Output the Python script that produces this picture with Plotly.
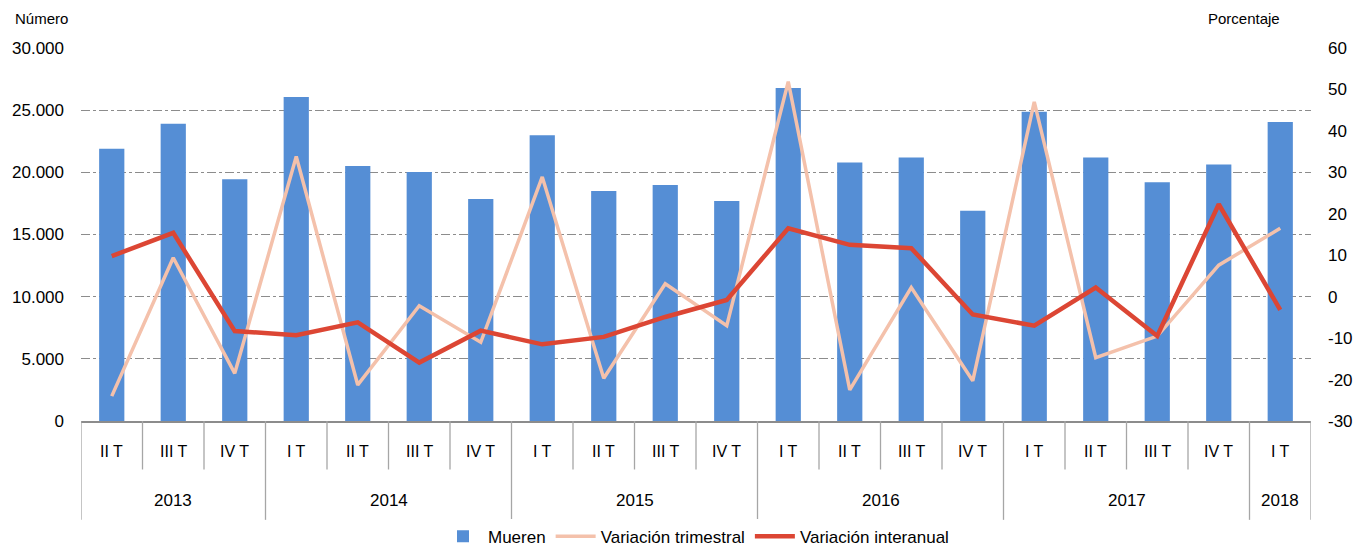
import plotly.graph_objects as go

years = ["2013", "2013", "2013",
         "2014", "2014", "2014", "2014",
         "2015", "2015", "2015", "2015",
         "2016", "2016", "2016", "2016",
         "2017", "2017", "2017", "2017",
         "2018"]
quarters = ["II T", "III T", "IV T",
            "I T", "II T", "III T", "IV T",
            "I T", "II T", "III T", "IV T",
            "I T", "II T", "III T", "IV T",
            "I T", "II T", "III T", "IV T",
            "I T"]
mueren = [21900, 23900, 19450,
          26050, 20500, 20030, 17850,
          22980, 18500, 18980, 17700,
          26780, 20800, 21200, 16920,
          24880, 21200, 19200, 20640,
          24050]
var_trimestral = [-24.0, 9.4, -18.5,
                  33.8, -21.3, -2.2, -11.0,
                  28.9, -19.7, 3.1, -7.0,
                  51.9, -22.5, 2.2, -20.3,
                  47.0, -14.7, -9.5, 7.6,
                  16.5]
var_interanual = [9.8, 15.4, -8.3,
                  -9.3, -6.2, -15.9, -8.2,
                  -11.5, -9.7, -4.9, -0.8,
                  16.5, 12.5, 11.7, -4.3,
                  -7.0, 2.2, -9.5, 22.3,
                  -3.2]

left_ticks = [0, 5000, 10000, 15000, 20000, 25000, 30000]
right_ticks = [-30, -20, -10, 0, 10, 20, 30, 40, 50, 60]

x = list(range(len(quarters)))
font_main = "Liberation Sans, Arial, sans-serif"

fig = go.Figure()

fig.add_trace(go.Bar(
    x=x, y=mueren, name="Mueren",
    marker_color="#558ED5", marker_line_width=0,
    width=0.41
))
fig.add_trace(go.Scatter(
    x=x, y=var_trimestral, name="Variación trimestral",
    mode="lines", line=dict(color="#F4C1AB", width=3.5),
    yaxis="y2"
))
fig.add_trace(go.Scatter(
    x=x, y=var_interanual, name="Variación interanual",
    mode="lines", line=dict(color="#DC4634", width=4.5),
    yaxis="y2"
))

# category labels below the axis
axis_color = "#8C8C8C"
sep_color = "#A6A6A6"
for i, q in enumerate(quarters):
    fig.add_annotation(x=i, y=-0.081, xref="x", yref="paper", text=q, yanchor="middle",
                       showarrow=False, font=dict(family=font_main, size=16, color="#000"))
    if i > 0:
        low = -0.265 if years[i] != years[i - 1] else -0.13
        fig.add_shape(type="line", xref="x", yref="paper", x0=i - 0.5, x1=i - 0.5,
                      y0=0, y1=low, line=dict(color=sep_color, width=1.3))
fig.add_shape(type="line", xref="x", yref="paper", x0=-0.5, x1=-0.5,
              y0=0, y1=-0.265, line=dict(color=sep_color, width=1.3))
fig.add_shape(type="line", xref="x", yref="paper", x0=len(x) - 0.5, x1=len(x) - 0.5,
              y0=0, y1=-0.265, line=dict(color=sep_color, width=1.3))

for yr in dict.fromkeys(years):
    idx = [i for i, y in enumerate(years) if y == yr]
    fig.add_annotation(x=sum(idx) / len(idx), y=-0.212, xref="x", yref="paper", text=yr,
                       yanchor="middle", showarrow=False,
                       font=dict(family=font_main, size=17, color="#000"))

fig.add_annotation(x=0, y=1.08, xref="paper", yref="paper", xshift=-68, text="Número",
                   showarrow=False, xanchor="left", yanchor="middle",
                   font=dict(family=font_main, size=15, color="#000"))
fig.add_annotation(x=1, y=1.08, xref="paper", yref="paper", xshift=-29, text="Porcentaje",
                   showarrow=False, xanchor="right", yanchor="middle",
                   font=dict(family=font_main, size=15, color="#000"))

# page body adds an 8px offset, so the figure is 8px smaller on each side
fig.update_layout(
    width=1355, height=545,
    margin=dict(l=73, r=52, t=40, b=132, autoexpand=False),
    plot_bgcolor="white", paper_bgcolor="white",
    bargap=0.5,
    xaxis=dict(range=[-0.5, len(x) - 0.5], showticklabels=False, showgrid=False,
               zeroline=False, showline=True, linecolor=axis_color, linewidth=2),
    yaxis=dict(range=[0, 30000], tickvals=left_ticks,
               ticktext=[f"{v:,}".replace(",", ".") for v in left_ticks],
               showgrid=True, gridcolor="#8C8C8C", griddash="dashdot", gridwidth=1,
               zeroline=False, ticks="", ticklabelstandoff=16, automargin=False,
               tickfont=dict(family=font_main, size=17, color="#000")),
    yaxis2=dict(range=[-30, 60], tickvals=right_ticks, ticktext=[str(v) for v in right_ticks],
                overlaying="y", side="right", showgrid=False, zeroline=False, ticks="",
                ticklabelstandoff=16, automargin=False,
                tickfont=dict(family=font_main, size=17, color="#000")),
    legend=dict(orientation="h", x=0.5, xanchor="center", y=-0.262, yanchor="top",
                itemwidth=40,
                font=dict(family=font_main, size=17, color="#000"), traceorder="normal"),
    showlegend=True
)

fig.write_html("out.html")
